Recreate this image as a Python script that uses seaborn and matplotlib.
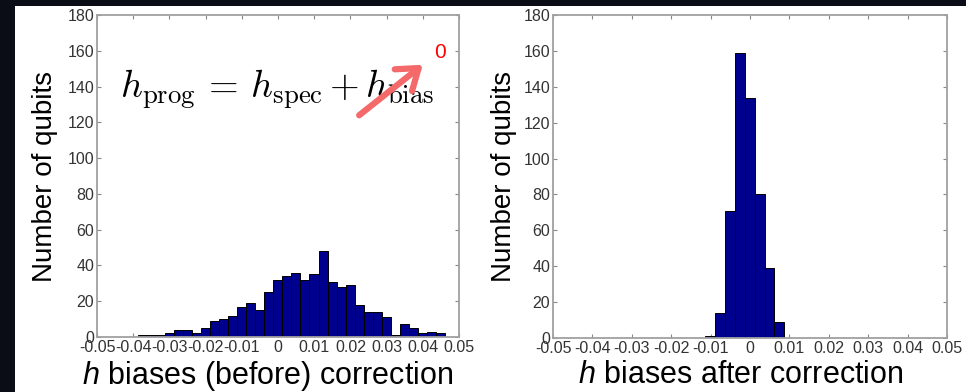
import numpy as np
import pandas as pd
import matplotlib.pyplot as plt
import seaborn as sns
from matplotlib.patches import Rectangle, FancyArrowPatch

sns.set_style("ticks")
plt.rcParams['font.family'] = ['Liberation Sans', 'DejaVu Sans']
plt.rcParams['mathtext.fontset'] = 'custom'
plt.rcParams['mathtext.rm'] = 'Liberation Sans'
plt.rcParams['mathtext.it'] = 'Liberation Sans:italic'
plt.rcParams['axes.unicode_minus'] = False

# histogram counts
antes_counts = [1, 1, 1, 2, 4, 4, 2, 5, 9, 10, 12, 17, 19, 15, 25, 32, 34, 36, 32, 35,
                48, 31, 28, 29, 18, 14, 14, 11, 1, 7, 5, 2, 3, 2]
antes_rango = (-0.0388, 0.0462)

despues_counts = [1, 14, 71, 159, 134, 80, 39, 9]
despues_rango = (-0.0113, 0.0087)

xticks = [-0.05, -0.04, -0.03, -0.02, -0.01, 0, 0.01, 0.02, 0.03, 0.04, 0.05]
xtick_labels = ["-0.05", "-0.04", "-0.03", "-0.02", "-0.01", "0",
                "0.01", "0.02", "0.03", "0.04", "0.05"]
yticks = [0, 20, 40, 60, 80, 100, 120, 140, 160, 180]


def tabla(counts, rango):
    edges = np.linspace(rango[0], rango[1], len(counts) + 1)
    centros = (edges[:-1] + edges[1:]) / 2
    return pd.DataFrame({"h": centros, "n": counts})


fig = plt.figure(figsize=(9.66, 3.92), dpi=100, facecolor="#0a0d16")
fig.add_artist(Rectangle((15 / 966, 0), 1, 1 - 6 / 392, transform=fig.transFigure,
                         facecolor="white", edgecolor="none", zorder=0))

ax1 = fig.add_axes([97 / 966, 1 - 337 / 392, 362 / 966, 322 / 392])
ax2 = fig.add_axes([553 / 966, 1 - 338 / 392, 394 / 966, 323 / 392])

paneles = [
    (ax1, antes_counts, antes_rango, "$h$ biases (before) correction", 0.472, 7.0),
    (ax2, despues_counts, despues_rango, "$h$ biases after correction", 0.477, 4.5),
]

for ax, counts, rango, xlab, xl_pos, ypad in paneles:
    df = tabla(counts, rango)
    sns.histplot(data=df, x="h", weights="n", bins=len(counts), binrange=rango,
                 color="#00008f", edgecolor="black", linewidth=0.7, alpha=1, ax=ax)
    ax.set_xlim(-0.05, 0.05)
    ax.set_ylim(0, 180)
    ax.set_xticks(xticks)
    ax.set_xticklabels(xtick_labels)
    ax.set_yticks(yticks)
    ax.tick_params(direction="in", top=True, right=True, length=3, width=0.8,
                   color="#888888", labelsize=11.5, labelcolor="#333333", pad=2)
    for s in ax.spines.values():
        s.set_color("#a0a0a0")
        s.set_linewidth(1.3)
    ax.set_xlabel(xlab, fontsize=22, color="black")
    ax.xaxis.set_label_coords(xl_pos, -0.068)
    ax.set_ylabel("Number of qubits", fontsize=20, color="black", labelpad=ypad)
    ax.set_facecolor("white")

# formula y flecha
fig.text(120 / 966, 1 - 98 / 392,
         r"$h_{\rm prog}\,{=}\,h_{\rm spec}\,{+}\,h_{\rm bias}$",
         fontsize=27.5, math_fontfamily="cm", ha="left", va="baseline", color="black")
fig.add_artist(FancyArrowPatch((357 / 966, 1 - 117 / 392), (425 / 966, 1 - 63 / 392),
                               transform=fig.transFigure,
                               arrowstyle="->,head_length=0.7,head_width=0.5",
                               mutation_scale=20, color="#f46a6a", lw=4.5, zorder=5))
fig.text(440 / 966, 1 - 52 / 392, "0", fontsize=15, color="#ff0000",
         ha="center", va="center")

fig.savefig("out.png", dpi=100, facecolor=fig.get_facecolor())
